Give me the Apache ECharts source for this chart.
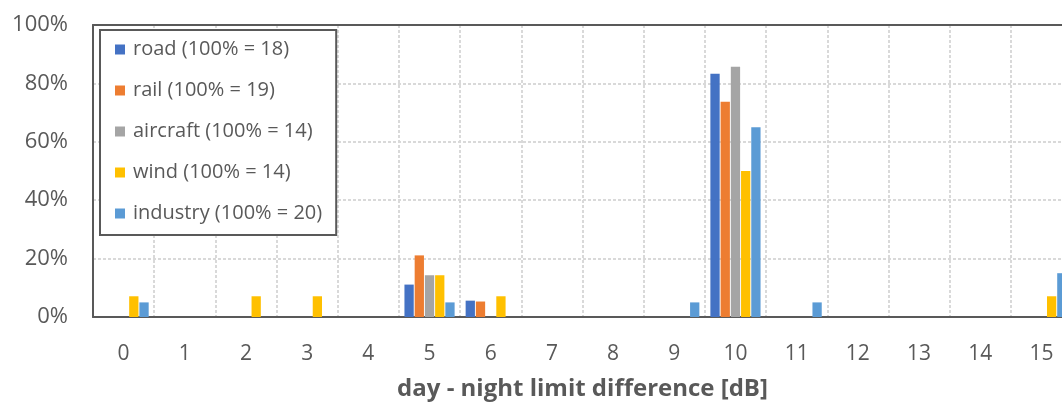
<!DOCTYPE html>
<html>
<head>
<meta charset="utf-8">
<script src="https://cdn.jsdelivr.net/npm/echarts@6/dist/echarts.min.js"></script>
<style>html,body{margin:0;padding:0;background:#fff;overflow:hidden;width:1062px;height:405px}#c{width:1100px;height:405px}</style>
</head>
<body>
<div id="c"></div>
<script>
const categories = ['0','1','2','3','4','5','6','7','8','9','10','11','12','13','14','15'];
const seriesNames = ['road (100% = 18)','rail (100% = 19)','aircraft (100% = 14)','wind (100% = 14)','industry (100% = 20)'];
const road     = [0,0,0,0,0,11.1,5.6,0,0,0,83.3,0,0,0,0,0];
const rail     = [0,0,0,0,0,21.1,5.3,0,0,0,73.7,0,0,0,0,0];
const aircraft = [0,0,0,0,0,14.3,0,0,0,0,85.7,0,0,0,0,0];
const wind     = [7.1,0,7.1,7.1,0,14.3,7.1,0,0,0,50.0,0,0,0,0,7.1];
const industry = [5.0,0,0,0,0,5.0,0,0,0,5.0,65.0,5.0,0,0,0,15.0];
const yTicks = [0,20,40,60,80,100];
const colors = ['#4472C4','#ED7D31','#A5A5A5','#FFC000','#5B9BD5'];

const allData = [road, rail, aircraft, wind, industry];
const FONT = 'Open Sans';
const chart = echarts.init(document.getElementById('c'));
chart.setOption({
  animation: false,
  textStyle: {fontFamily: FONT},
  grid: {left: 93, top: 25, width: 979, bottom: 88, containLabel: false, outerBoundsMode: 'none'},
  legend: {
    orient: 'vertical', left: 100, top: 30,
    padding: [9, 14, 11, 15],
    backgroundColor: '#fff', borderColor: '#595959', borderWidth: 2,
    itemWidth: 10, itemHeight: 10, itemGap: 20, icon: 'rect',
    textStyle: {fontFamily: FONT, fontSize: 20, color: '#595959', lineHeight: 21, padding: [0, 0, 0, 3]},
    data: seriesNames
  },
  xAxis: [{
    type: 'category', data: categories,
    axisLine: {lineStyle: {color: '#595959', width: 2}},
    axisTick: {show: false},
    axisLabel: {fontSize: 21, color: '#595959', margin: 27, fontFamily: FONT},
    splitLine: {show: true, interval: 0, lineStyle: {color: '#d9d9d9', width: 2, type: [3, 2]}},
    name: 'day - night limit difference [dB]', nameLocation: 'middle', nameGap: 60,
    nameTextStyle: {fontSize: 24, fontWeight: 'bold', color: '#595959', fontFamily: FONT}
  }, {
    type: 'category', data: categories, position: 'top',
    axisLine: {lineStyle: {color: '#595959', width: 2}},
    axisTick: {show: false}, axisLabel: {show: false}, splitLine: {show: false}
  }],
  yAxis: {
    type: 'value', min: yTicks[0], max: yTicks[yTicks.length-1], interval: 20,
    axisLine: {show: true, lineStyle: {color: '#595959', width: 2}},
    axisLabel: {formatter: '{value}%', fontSize: 22, color: '#595959', margin: 25, fontFamily: FONT, padding: [6, 0, 0, 0]},
    splitLine: {show: true, lineStyle: {color: '#d9d9d9', width: 2, type: [3, 2]}}
  },
  series: seriesNames.map((n, i) => ({
    name: n, type: 'bar', data: allData[i],
    itemStyle: {color: colors[i]},
    barGap: '10%', barCategoryGap: '18%'
  }))
});
</script>
</body>
</html>
